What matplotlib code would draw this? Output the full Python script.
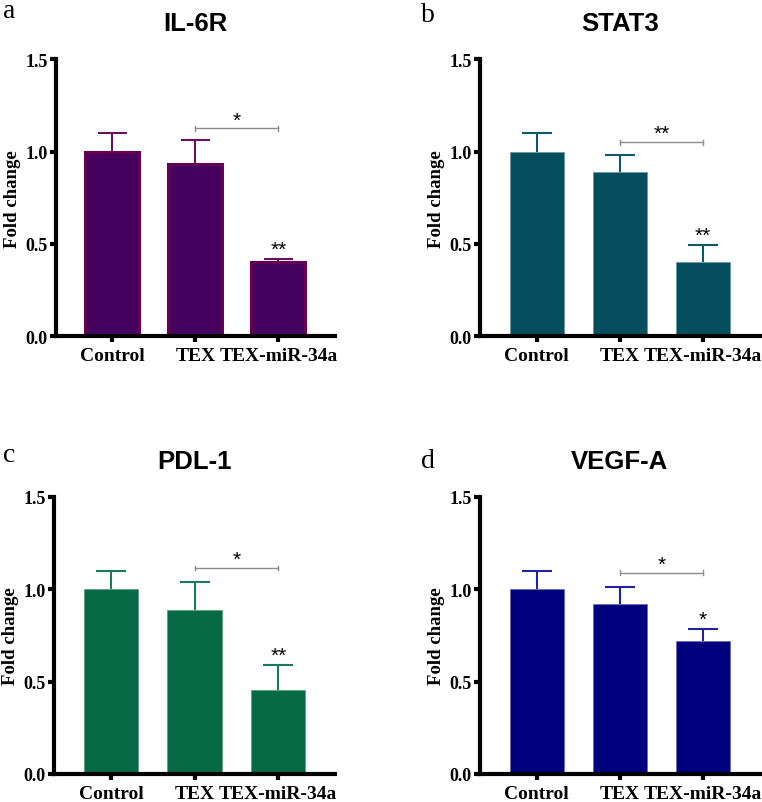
import matplotlib.pyplot as plt

groups = ["Control", "TEX", "TEX-miR-34a"]

genes = ["IL-6R", "STAT3", "PDL-1", "VEGF-A"]
letters = ["a", "b", "c", "d"]

il6r_mean = [1.00, 0.93, 0.40]
il6r_err = [0.10, 0.13, 0.02]
stat3_mean = [1.00, 0.89, 0.40]
stat3_err = [0.10, 0.09, 0.095]
pdl1_mean = [1.00, 0.89, 0.455]
pdl1_err = [0.10, 0.15, 0.135]
vegfa_mean = [1.00, 0.92, 0.72]
vegfa_err = [0.10, 0.09, 0.065]

# significance: bracket TEX vs TEX-miR-34a, and star above TEX-miR-34a
bracket_y = [1.125, 1.05, 1.115, 1.09]
bracket_lbl = ["*", "**", "*", "*"]
bar_lbl = ["**", "**", "**", "*"]

face_colors = ["#46005e", "#044e5e", "#066a46", "#00007f"]
edge_colors = ["#660052", "#6a98a4", "#5f9e86", "#6a6ab8"]
err_colors = ["#6a1060", "#0b5868", "#1a7a58", "#2020a0"]

means = [il6r_mean, stat3_mean, pdl1_mean, vegfa_mean]
errs = [il6r_err, stat3_err, pdl1_err, vegfa_err]

serif = "Liberation Serif"
sans = "Liberation Sans"

fig = plt.figure(figsize=(7.62, 8.03), dpi=100)
positions = [
    [0.0735, 0.580, 0.366, 0.345],
    [0.630, 0.580, 0.367, 0.345],
    [0.0709, 0.035, 0.369, 0.345],
    [0.630, 0.035, 0.367, 0.345],
]
letter_pos = [(0.004, 0.977), (0.553, 0.9726), (0.004, 0.4247), (0.553, 0.417)]

for i in range(4):
    ax = fig.add_axes(positions[i])
    x = list(range(len(groups)))
    lw = 2.2 if i == 0 else 0.6
    ax.bar(x, means[i], width=0.65, color=face_colors[i],
           edgecolor=edge_colors[i], linewidth=lw, zorder=2)
    # upper-only error bars
    tops = [m + e for m, e in zip(means[i], errs[i])]
    ax.vlines(x, means[i], tops, color=err_colors[i], lw=1.5, zorder=1)
    ax.hlines(tops, [v - 0.18 for v in x], [v + 0.18 for v in x],
              color=err_colors[i], lw=1.5, zorder=1)

    # bracket between TEX and TEX-miR-34a
    by = bracket_y[i]
    ax.plot([1, 2], [by, by], color="#8c8c8c", lw=1.0, zorder=3)
    ax.plot([1, 1], [by - 0.012, by + 0.012], color="#8c8c8c", lw=1.0)
    ax.plot([2, 2], [by - 0.012, by + 0.012], color="#8c8c8c", lw=1.0)
    ax.text(1.5, by - 0.005, bracket_lbl[i], ha="center", va="bottom",
            fontsize=15, family=sans)
    ax.text(2, tops[2], bar_lbl[i], ha="center", va="bottom",
            fontsize=15, family=sans)

    ax.set_xlim(-0.68, 2.68)
    ax.set_ylim(0, 1.5)
    ax.set_yticks([0, 0.5, 1.0, 1.5])
    ax.set_yticklabels(["0.0", "0.5", "1.0", "1.5"], family=serif,
                       fontweight="bold", fontsize=13)
    ax.set_xticks(x)
    ax.set_xticklabels(groups, family=serif, fontweight="bold", fontsize=14)
    ax.set_ylabel("Fold change", family=serif, fontweight="bold",
                  fontsize=13.5, labelpad=3)
    for s in ["top", "right"]:
        ax.spines[s].set_visible(False)
    for s in ["left", "bottom"]:
        ax.spines[s].set_linewidth(3)
    ax.tick_params(axis="both", width=3, length=4, pad=2)
    ax.tick_params(axis="x", pad=4)

    ax.set_title(genes[i], family=sans, fontweight="bold", fontsize=18.5,
                 pad=21)
    fig.text(letter_pos[i][0], letter_pos[i][1], letters[i], family=serif,
             fontsize=20, va="baseline")

fig.savefig("out.png", dpi=100)
